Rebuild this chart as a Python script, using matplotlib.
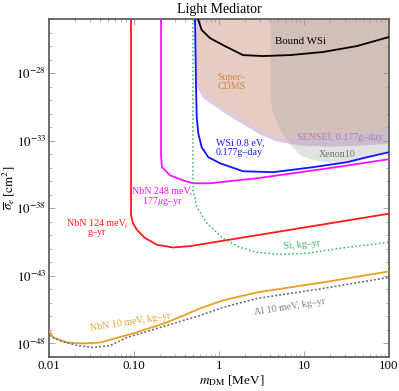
import numpy as np
import matplotlib
matplotlib.use("Agg")
import matplotlib.pyplot as plt
from matplotlib.ticker import FixedLocator, NullFormatter

plt.rcParams['font.family'] = ['Liberation Serif', 'DejaVu Serif']
plt.rcParams['mathtext.fontset'] = 'stix'

# ---- data: log10(m_DM / MeV) and log10(sigma_e / cm^2) ----
red_lm = [-1.035, -1.035, -1.012, -0.965, -0.871, -0.729, -0.541, -0.341, 2.0]
red_ls = [-24.0, -38.5, -39.1, -39.6, -40.2, -40.7, -40.9, -40.8, -38.4]

mag_lm = [-0.682, -0.682, -0.671, -0.576, -0.424, -0.306, -0.106, 0.447, 1.224, 2.0]
mag_ls = [-24.0, -34.07, -34.96, -35.56, -35.93, -36.15, -36.15, -35.78, -35.1, -34.37]

blue_lm = [-0.282, -0.271, -0.262, -0.244, -0.204, -0.126, 0.012, 0.282, 0.635, 1.106, 1.506, 1.741, 2.0]
blue_ls = [-24.0, -28.74, -31.26, -32.44, -33.48, -34.22, -34.67, -35.26, -35.33, -34.96, -34.59, -34.22, -33.85]

si_lm = [-0.306, -0.306, -0.259, -0.141, 0.047, 0.247, 0.447, 0.718, 1.035, 1.424, 2.0]
si_ls = [-24.0, -36.67, -37.93, -39.11, -40.22, -40.89, -41.26, -41.41, -41.33, -40.96, -40.52]

nbn10_lm = [-2.0, -1.953, -1.788, -1.6, -1.4, -1.012, -0.612, -0.224, 0.047, 0.447, 1.224, 2.0]
nbn10_ls = [-47.04, -47.56, -47.93, -48.0, -47.93, -47.26, -46.44, -45.41, -44.81, -44.22, -43.48, -42.67]

al10_lm = [-2.0, -1.871, -1.671, -1.482, -1.282, -1.082, -0.812, -0.224, 0.047, 0.447, 1.224, 2.0]
al10_ls = [-47.41, -47.78, -48.15, -48.30, -48.15, -47.56, -47.04, -45.93, -45.33, -44.67, -43.93, -43.11]

bound_lm = [-0.247, -0.204, -0.106, 0.047, 0.282, 0.518, 0.835, 1.224, 1.624, 2.0]
bound_ls = [-24.0, -24.81, -25.41, -25.93, -26.67, -26.74, -26.67, -26.44, -26.0, -25.33]

cdms_lm = [-0.271, -0.271, -0.259, -0.2, -0.106, 0.047, 0.247, 0.447, 0.635, 0.835, 1.188, 2.0]
cdms_ls = [-24.0, -27.63, -28.67, -29.41, -29.85, -30.59, -31.33, -32.07, -32.59, -32.81, -32.74, -32.07]

sensei_lm = [-0.282, -0.282, -0.259, -0.188, -0.082, 0.071, 0.282, 0.482, 0.682, 0.953, 1.306, 1.659, 2.0]
sensei_ls = [-24.0, -27.93, -29.11, -29.85, -30.30, -30.96, -31.78, -32.52, -33.04, -33.33, -33.41, -33.33, -33.19]

xenon_lm = [0.6, 0.6, 0.624, 0.694, 0.776, 0.859, 0.976, 1.129, 1.306, 1.541, 1.776, 2.0]
xenon_ls = [-24.0, -29.85, -30.74, -31.85, -32.81, -33.48, -34.15, -34.44, -34.59, -34.59, -34.25, -33.8]

xticks = [0.01, 0.1, 1, 10, 100]
xticklabels = ["0.01", "0.10", "1", "10", "100"]
yticks_exp = [-28, -33, -38, -43, -48]


def P(lm, ls):
    return np.power(10.0, np.array(lm)), np.power(10.0, np.array(ls))


fig = plt.figure(figsize=(3.99, 3.91), dpi=100)
ax = fig.add_axes([49/399, 1-357/391, 340/399, 338/391])
ax.set_xscale('log')
ax.set_yscale('log')
ax.set_xlim(1e-2, 1e2)
ax.set_ylim(1e-49, 1e-24)

top = 1e-24
# filled regions
x, y = P(sensei_lm, sensei_ls)
ax.fill_between(x, y, top, color='#dcc9e2', lw=0, zorder=1)
x, y = P(cdms_lm, cdms_ls)
ax.fill_between(x, y, top, color='#e8cbc1', lw=0, zorder=1.2)
x, y = P(xenon_lm, xenon_ls)
ax.fill_between(x, y, top, color='#a8a8a8', alpha=0.33, lw=0, zorder=1.4)

# lines
lw = 1.3
x, y = P(red_lm, red_ls); ax.plot(x, y, color='#ff1a1a', lw=lw, zorder=3)
x, y = P(mag_lm, mag_ls); ax.plot(x, y, color='#ff10ff', lw=lw, zorder=3)
x, y = P(blue_lm, blue_ls); ax.plot(x, y, color='#1414ff', lw=lw, zorder=3)
x, y = P(si_lm, si_ls); ax.plot(x, y, color='#3cb45a', lw=1.1, ls=(0, (1, 1.6)), zorder=3)
x, y = P(nbn10_lm, nbn10_ls); ax.plot(x, y, color='#e8a020', lw=lw, zorder=3)
x, y = P(al10_lm, al10_ls); ax.plot(x, y, color='#707070', lw=1.2, ls=(0, (1.2, 1.2)), zorder=3)
x, y = P(bound_lm, bound_ls); ax.plot(x, y, color='black', lw=lw, zorder=3)

# labels
fs = 7.2
ax.text(10**0.96, 10**-25.7, "Bound WSi", color='black', fontsize=7.8, ha='center', va='center', zorder=4)
ax.text(10**0.153, 10**-28.67, "Super\u2013\nCDMS", color='#cc8844', fontsize=fs, ha='center', va='center', linespacing=1.0, zorder=4)
ax.text(10**1.424, 10**-32.74, "SENSEI, 0.177g\u2013day", color='#b27ab8', fontsize=fs, ha='center', va='center', zorder=4)
ax.text(10**1.388, 10**-34.0, "Xenon10", color='#707070', fontsize=fs, ha='center', va='center', zorder=4)
ax.text(10**-0.035, 10**-33.52, "WSi 0.8 eV,\n0.177g\u2013day", color='#1414ff', fontsize=fs, ha='left', va='center', linespacing=1.0, zorder=4)
ax.text(10**-0.67, 10**-37.2, "NbN 248 meV,\n177$\\mu$g\u2013yr", color='#ff10ff', fontsize=fs, ha='center', va='center', linespacing=1.0, zorder=4)
ax.text(10**-1.435, 10**-39.44, "NbN 124 meV,\ng\u2013yr", color='#ff1a1a', fontsize=fs, ha='center', va='center', linespacing=1.0, zorder=4)
ax.text(10**0.976, 10**-40.74, "Si, kg\u2013yr", color='#3cb45a', fontsize=fs, ha='center', va='center', rotation=5, zorder=4)
ax.text(10**-1.047, 10**-46.45, "NbN 10 meV, kg\u2013yr", color='#e0a030', fontsize=fs, ha='center', va='center', rotation=9, zorder=4)
ax.text(10**0.835, 10**-45.33, "Al 10 meV, kg\u2013yr", color='#808080', fontsize=fs, ha='center', va='center', rotation=9, zorder=4)

# ticks
ax.xaxis.set_major_locator(FixedLocator(xticks))
ax.set_xticklabels(xticklabels)
ax.yaxis.set_major_locator(FixedLocator([10.0**e for e in yticks_exp]))
ax.set_yticklabels(["$10^{%d}$" % e for e in yticks_exp])
ax.yaxis.set_minor_locator(FixedLocator([10.0**e for e in range(-49, -23)]))
ax.yaxis.set_minor_formatter(NullFormatter())
ax.tick_params(which='both', direction='in', top=True, right=True, color='#999999', labelsize=9.3, pad=2)
ax.tick_params(which='major', length=4, width=0.6)
ax.tick_params(which='minor', length=2, width=0.5)
for s in ax.spines.values():
    s.set_color('#606060')
    s.set_linewidth(1.3)

ax.set_title("Light Mediator", fontsize=10, pad=4)
ax.set_xlabel("$m_{\\rm DM}$ [MeV]", fontsize=9.5)
ax.xaxis.set_label_coords((232-49)/340, -(373-357)/338)
ax.set_ylabel("$\\overline{\\sigma}_e\\,[\\rm cm^2]$", fontsize=9.5)
ax.yaxis.set_label_coords(-(49-9)/340, 0.5)
ax.yaxis.label.set_va('center')

fig.savefig("out.png", dpi=100)
